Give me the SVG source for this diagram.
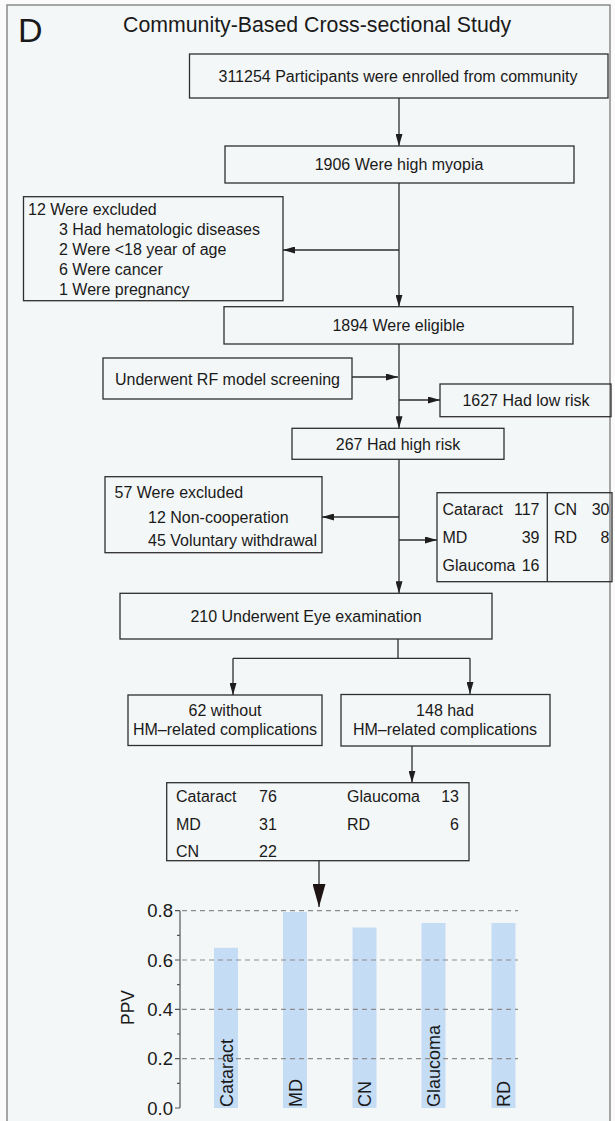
<svg xmlns="http://www.w3.org/2000/svg" width="615" height="1121" viewBox="0 0 615 1121">
<style>
  text { font-family: "Liberation Sans", Arial, sans-serif; fill: #1a1a1a; }
  .t16 { font-size: 16px; }
  .mid { text-anchor: middle; }
  .end { text-anchor: end; }
  .box { fill: none; stroke: #2e2e2e; stroke-width: 1.3; }
  .ln { fill: none; stroke: #2e2e2e; stroke-width: 1.3; }
  .grid { stroke: #8c8c8c; stroke-width: 1.2; stroke-dasharray: 5 4; fill: none; }
  .axis { stroke: #555; stroke-width: 1.2; fill: none; }
  .bar { fill: #c5dcf5; }
  .tick { font-size: 18.5px; text-anchor: end; }
  .blab { font-size: 18px; }
</style>
<defs>
  <marker id="ah" viewBox="0 0 12 7" refX="12" refY="3.5" markerWidth="12" markerHeight="7" markerUnits="userSpaceOnUse" orient="auto">
    <path d="M0,0 L12,3.5 L0,7 z" fill="#1e1e1e"/>
  </marker>
  <marker id="big" viewBox="0 0 23 13" refX="23" refY="6.5" markerWidth="23" markerHeight="13" markerUnits="userSpaceOnUse" orient="auto">
    <path d="M0,0 L23,6.5 L0,13 z" fill="#1e1414"/>
  </marker>
</defs>
<rect x="0" y="0" width="615" height="1121" fill="#fbfbfb"/>
<rect x="7" y="5" width="603" height="1140" fill="#f4f7f7" stroke="#8a8a8a" stroke-width="1.5"/>
<text x="18" y="42" style="font-size:34px">D</text>
<text x="123" y="32" style="font-size:21.3px">Community-Based Cross-sectional Study</text>

<g id="connectors">
  <line class="ln" x1="399" y1="98" x2="399" y2="146" marker-end="url(#ah)"/>
  <line class="ln" x1="399" y1="183" x2="399" y2="306.7" marker-end="url(#ah)"/>
  <line class="ln" x1="399" y1="250" x2="283" y2="250" marker-end="url(#ah)"/>
  <line class="ln" x1="399" y1="344" x2="399" y2="428.3" marker-end="url(#ah)"/>
  <line class="ln" x1="352" y1="377" x2="398" y2="377" marker-end="url(#ah)"/>
  <line class="ln" x1="399" y1="400" x2="440" y2="400" marker-end="url(#ah)"/>
  <line class="ln" x1="399" y1="459.3" x2="399" y2="593.3" marker-end="url(#ah)"/>
  <line class="ln" x1="399" y1="517" x2="322" y2="517" marker-end="url(#ah)"/>
  <line class="ln" x1="399" y1="540" x2="437" y2="540" marker-end="url(#ah)"/>
  <line class="ln" x1="398" y1="639" x2="398" y2="658.3"/>
  <line class="ln" x1="233" y1="658.3" x2="470" y2="658.3"/>
  <line class="ln" x1="233" y1="658.3" x2="233" y2="695" marker-end="url(#ah)"/>
  <line class="ln" x1="470" y1="658.3" x2="470" y2="694" marker-end="url(#ah)"/>
  <line class="ln" x1="412" y1="746" x2="412" y2="782.7" marker-end="url(#ah)"/>
  <line class="ln" x1="319" y1="860.7" x2="319" y2="907" stroke-width="2" marker-end="url(#big)"/>
</g>

<g id="n_enrolled">
  <rect class="box" x="189.5" y="54" width="418.5" height="44"/>
  <text class="t16 mid" x="398" y="82">311254 Participants were enrolled from community</text>
</g>
<g id="n_myopia">
  <rect class="box" x="225" y="146" width="349" height="37"/>
  <text class="t16 mid" x="399" y="170">1906 Were high myopia</text>
</g>
<g id="n_excluded1">
  <rect class="box" x="23.5" y="196.7" width="259.5" height="104"/>
  <text class="t16" x="28" y="215">12 Were excluded</text>
  <text class="t16" x="59" y="235">3 Had hematologic diseases</text>
  <text class="t16" x="59" y="255">2 Were &lt;18 year of age</text>
  <text class="t16" x="59" y="275">6 Were cancer</text>
  <text class="t16" x="59" y="295">1 Were pregnancy</text>
</g>
<g id="n_eligible">
  <rect class="box" x="224" y="306.7" width="349" height="37.3"/>
  <text class="t16 mid" x="398.5" y="331">1894 Were eligible</text>
</g>
<g id="n_rf">
  <rect class="box" x="103" y="358" width="249" height="41"/>
  <text class="t16 mid" x="227.5" y="384.5">Underwent RF model screening</text>
</g>
<g id="n_lowrisk">
  <rect class="box" x="440" y="384" width="171" height="32.7"/>
  <text class="t16 mid" x="526" y="406">1627 Had low risk</text>
</g>
<g id="n_highrisk">
  <rect class="box" x="292" y="428.3" width="212" height="31"/>
  <text class="t16 mid" x="398" y="449.5">267 Had high risk</text>
</g>
<g id="n_excluded2">
  <rect class="box" x="105" y="476.7" width="217" height="76"/>
  <text class="t16" x="114.5" y="497.5">57 Were excluded</text>
  <text class="t16" x="148" y="523">12 Non-cooperation</text>
  <text class="t16" x="148" y="546">45 Voluntary withdrawal</text>
</g>
<g id="n_table1">
  <rect class="box" x="437" y="492.7" width="175" height="89"/>
  <line class="ln" x1="547.3" y1="492.7" x2="547.3" y2="581.7"/>
  <text class="t16" x="442.5" y="515">Cataract</text>
  <text class="t16 end" x="539.5" y="515">117</text>
  <text class="t16" x="442.5" y="543">MD</text>
  <text class="t16 end" x="539.5" y="543">39</text>
  <text class="t16" x="442.5" y="571">Glaucoma</text>
  <text class="t16 end" x="539.5" y="571">16</text>
  <text class="t16" x="554" y="515">CN</text>
  <text class="t16 end" x="609.5" y="515">30</text>
  <text class="t16" x="554" y="543">RD</text>
  <text class="t16 end" x="609.5" y="543">8</text>
</g>
<g id="n_exam">
  <rect class="box" x="120" y="593.3" width="372" height="45.7"/>
  <text class="t16 mid" x="306" y="622">210 Underwent Eye examination</text>
</g>
<g id="n_without">
  <rect class="box" x="128" y="695" width="194" height="50.5"/>
  <text class="t16 mid" x="225" y="715.5">62 without</text>
  <text class="t16 mid" x="225" y="735">HM–related complications</text>
</g>
<g id="n_with">
  <rect class="box" x="341" y="694.5" width="209" height="51.5"/>
  <text class="t16 mid" x="445" y="715.5">148 had</text>
  <text class="t16 mid" x="445" y="735">HM–related complications</text>
</g>
<g id="n_table2">
  <rect class="box" x="166.7" y="782.7" width="302.3" height="78"/>
  <text class="t16" x="176" y="801.7">Cataract</text>
  <text class="t16" x="259" y="801.7">76</text>
  <text class="t16" x="176" y="830">MD</text>
  <text class="t16" x="259" y="830">31</text>
  <text class="t16" x="176" y="857">CN</text>
  <text class="t16" x="259" y="857">22</text>
  <text class="t16" x="347" y="801.7">Glaucoma</text>
  <text class="t16 end" x="459" y="801.7">13</text>
  <text class="t16" x="347" y="830">RD</text>
  <text class="t16 end" x="459" y="830">6</text>
</g>

<g id="chart">
  <rect class="bar" x="214" y="947.8" width="24" height="160.2"/>
  <rect class="bar" x="283" y="912" width="24" height="196"/>
  <rect class="bar" x="352.5" y="927.5" width="24" height="180.5"/>
  <rect class="bar" x="421.5" y="923" width="24" height="185"/>
  <rect class="bar" x="491.5" y="923" width="24" height="185"/>
  <line class="grid" x1="182" y1="910.7" x2="518" y2="910.7"/>
  <line class="grid" x1="182" y1="960" x2="518" y2="960"/>
  <line class="grid" x1="182" y1="1009.3" x2="518" y2="1009.3"/>
  <line class="grid" x1="182" y1="1058.7" x2="518" y2="1058.7"/>
  <path class="axis" d="M180,910.7 V1108 M175,910.7 H180 M175,960 H180 M175,1009.3 H180 M175,1058.7 H180 M175,1108 H180 M177,935.3 H180 M177,984.7 H180 M177,1034 H180 M177,1083.3 H180"/>
  <text class="tick" x="173" y="917.2">0.8</text>
  <text class="tick" x="173" y="966.5">0.6</text>
  <text class="tick" x="173" y="1015.8">0.4</text>
  <text class="tick" x="173" y="1065.2">0.2</text>
  <text class="tick" x="173" y="1114.5">0.0</text>
  <text class="mid" style="font-size:17.5px" transform="translate(134,1007.5) rotate(-90)">PPV</text>
  <text class="blab" transform="translate(233,1107) rotate(-90)">Cataract</text>
  <text class="blab" transform="translate(301.5,1107) rotate(-90)">MD</text>
  <text class="blab" transform="translate(371,1107) rotate(-90)">CN</text>
  <text class="blab" transform="translate(440,1107) rotate(-90)">Glaucoma</text>
  <text class="blab" transform="translate(510,1107) rotate(-90)">RD</text>
</g>
</svg>
